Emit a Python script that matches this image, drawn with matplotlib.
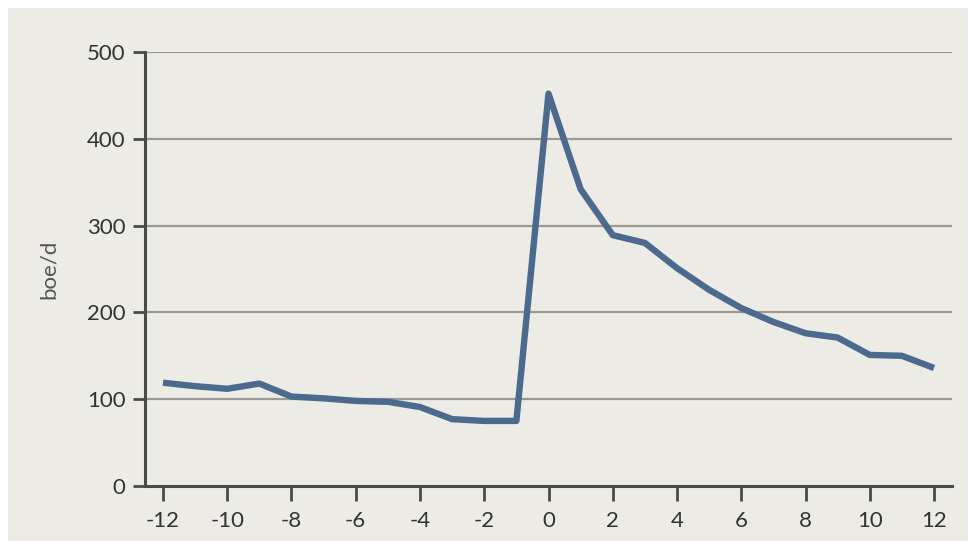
import numpy as np
import matplotlib.pyplot as plt
from matplotlib.patches import Rectangle

# meses antes/despues del evento y produccion (boe/d)
meses = list(range(-12, 13))
produccion = [119, 115, 112, 118, 103, 101, 98, 97, 91, 77, 75, 75,
              452, 342, 289, 280, 251, 226, 205, 189, 176, 171, 151, 150, 136]
yticks = [0, 100, 200, 300, 400, 500]
xticks = list(range(-12, 13, 2))

fondo = '#ecebe6'
fig = plt.figure(figsize=(9.72, 5.41), dpi=100)
fig.patch.set_facecolor('white')
fig.patches.append(Rectangle((8/972, 0), 960/972, 533/541, transform=fig.transFigure,
                             facecolor=fondo, edgecolor='none', zorder=-10))

ax = fig.add_axes([145/972, 1-486/541, 807/972, 434/541])
ax.set_facecolor('none')

for v in yticks[1:]:
    ax.axhline(v, color='#9b9a94', lw=1.6, zorder=1)

ax.plot(meses, produccion, color='#4b6a8e', lw=4.6, solid_joinstyle='round',
        solid_capstyle='butt', zorder=3)

ax.set_xlim(-12.56, 12.56)
ax.set_ylim(0, 500)
ax.set_xticks(xticks)
ax.set_yticks(yticks)
ax.set_xticklabels([str(t) for t in xticks])

for s in ['top', 'right']:
    ax.spines[s].set_visible(False)
for s in ['left', 'bottom']:
    ax.spines[s].set_color('#4a4a48')
    ax.spines[s].set_linewidth(2.2)

ax.tick_params(axis='x', length=11, width=2, color='#4a4a48', pad=7,
               labelsize=16, labelcolor='#333333')
ax.tick_params(axis='y', length=9, width=2, color='#4a4a48', pad=5,
               labelsize=16, labelcolor='#333333')
for lab in ax.get_xticklabels() + ax.get_yticklabels():
    lab.set_family('Lato')

ax.set_ylabel('boe/d', fontsize=16, color='#555555', family='Lato', labelpad=20)

fig.savefig('out.png', dpi=100, facecolor=fig.get_facecolor())
